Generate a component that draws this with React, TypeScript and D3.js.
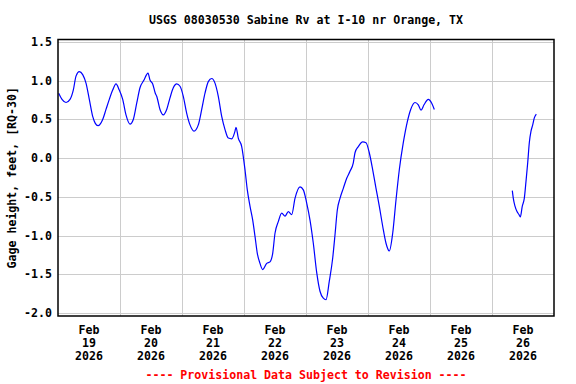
import React, { useEffect, useRef } from "react"
import * as d3 from "d3"

// hours since Feb 19 2026 00:00, gage height in feet
const hours1 = [0.27, 1.55, 3.1, 4.65, 5.92, 6.97, 8.25, 9.56, 10.84, 12.12, 13.43, 14.44, 15.48, 17.3, 18.58, 19.86, 21.17, 22.45, 23.73, 25.05, 26.32, 27.87, 29.15, 30.47, 31.74, 33.29, 34.84, 35.61, 36.66, 37.66, 38.21, 39.48, 40.76, 42.08, 43.35, 44.63, 45.95, 47.23, 48.5, 49.82, 51.1, 52.65, 54.31, 55.63, 56.9, 58.18, 59.5, 60.77, 62.05, 63.37, 64.65, 65.92, 67.24, 68.52, 68.9, 69.79, 71.11, 72.39, 73.28, 74.32, 75.37, 76.26, 77.15, 78.19, 79.24, 80.79, 82.06, 83.11, 84.0, 85.28, 86.6, 87.87, 89.15, 90.47, 91.74, 93.68, 94.96, 96.27, 97.55, 98.83, 100.15, 101.42, 102.7, 103.74, 105.02, 106.34, 107.23, 108.12, 109.16, 110.44, 111.76, 113.03, 114.31, 114.97, 116.25, 117.95, 119.23, 120.5, 121.82, 123.1, 124.37, 125.69, 126.97, 128.25, 129.56, 130.84, 132.12, 133.66, 135.21, 136.53, 138.19, 139.47, 140.52, 141.68, 143.35, 144.67, 145.67]
const gage1 = [0.84, 0.76, 0.72, 0.76, 0.88, 1.06, 1.12, 1.08, 0.97, 0.76, 0.54, 0.45, 0.42, 0.5, 0.63, 0.76, 0.88, 0.96, 0.88, 0.76, 0.56, 0.44, 0.5, 0.71, 0.91, 1.01, 1.1, 1.01, 0.96, 0.84, 0.8, 0.63, 0.56, 0.63, 0.78, 0.91, 0.96, 0.93, 0.8, 0.58, 0.43, 0.35, 0.43, 0.63, 0.84, 0.99, 1.03, 0.97, 0.8, 0.54, 0.37, 0.26, 0.25, 0.35, 0.4, 0.26, 0.15, -0.15, -0.41, -0.62, -0.8, -1.01, -1.23, -1.36, -1.44, -1.36, -1.34, -1.23, -0.97, -0.82, -0.71, -0.75, -0.69, -0.73, -0.52, -0.37, -0.41, -0.58, -0.8, -1.1, -1.48, -1.72, -1.81, -1.83, -1.59, -1.29, -0.99, -0.67, -0.52, -0.39, -0.26, -0.17, -0.06, 0.07, 0.15, 0.21, 0.2, 0.07, -0.15, -0.39, -0.62, -0.88, -1.1, -1.2, -0.97, -0.54, -0.15, 0.2, 0.47, 0.63, 0.72, 0.69, 0.62, 0.69, 0.76, 0.71, 0.63]
const hours2 = [175.86, 176.25, 176.9, 177.68, 178.45, 178.96, 179.73, 180.5, 181.16, 181.82, 182.44, 183.1, 183.76, 184.38, 185.15]
const gage2 = [-0.42, -0.52, -0.62, -0.69, -0.73, -0.76, -0.62, -0.52, -0.3, -0.06, 0.2, 0.35, 0.43, 0.52, 0.57]

const yTicks = [1.5, 1.0, 0.5, 0.0, -0.5, -1.0, -1.5, -2.0]
const dayLabels = ["19", "20", "21", "22", "23", "24", "25", "26"]
const monthLabel = "Feb"
const yearLabel = "2026"
const title = "USGS 08030530 Sabine Rv at I-10 nr Orange, TX"
const yTitle = "Gage height, feet, [RQ-30]"
const footer = "---- Provisional Data Subject to Revision ----"

const W = 576
const H = 384
const left = 58
const right = 554
const top = 39.5
const bottom = 316
const font = "'DejaVu Sans Mono', monospace"

export default function App() {
  const ref = useRef<SVGSVGElement>(null)

  useEffect(() => {
    const svg = d3.select(ref.current)
    svg.selectAll("*").remove()

    const t0 = Date.UTC(2026, 1, 19)
    const toDate = (h: number) => new Date(t0 + h * 3600 * 1000)
    const x = d3.scaleUtc().domain([new Date(t0), toDate(8 * 24)]).range([left, right])
    const y = d3.scaleLinear().domain([-2.04, 1.534]).range([bottom, top])
    const px = (v: number) => Math.round(v) + 0.5

    const days = d3.utcDay.range(new Date(t0), toDate(8 * 24))

    const grid = svg.append("g").attr("stroke", "#cccccc").attr("stroke-width", 1)
    grid.selectAll("line.h").data(yTicks).enter().append("line")
      .attr("x1", left).attr("x2", right)
      .attr("y1", d => px(y(d))).attr("y2", d => px(y(d)))
    grid.selectAll("line.v").data(days.slice(1)).enter().append("line")
      .attr("y1", top).attr("y2", bottom)
      .attr("x1", d => px(x(d))).attr("x2", d => px(x(d)))

    const line = d3.line<[number, number]>()
      .x(d => x(toDate(d[0])))
      .y(d => y(d[1]))
      .curve(d3.curveMonotoneX)

    const segs = [
      d3.zip(hours1, gage1) as [number, number][],
      d3.zip(hours2, gage2) as [number, number][],
    ]
    svg.append("g").selectAll("path").data(segs).enter().append("path")
      .attr("d", d => line(d))
      .attr("fill", "none")
      .attr("stroke", "#0000ff")
      .attr("stroke-width", 1.2)

    svg.append("rect")
      .attr("x", left).attr("y", top)
      .attr("width", right - left).attr("height", bottom - top)
      .attr("fill", "none").attr("stroke", "#000").attr("stroke-width", 1.5)

    const txt = svg.append("g")
      .attr("font-family", font).attr("font-weight", "bold").attr("font-size", 11.6)

    txt.append("text").attr("x", (left + right) / 2).attr("y", 24)
      .attr("text-anchor", "middle").text(title)

    txt.selectAll("text.yt").data(yTicks).enter().append("text")
      .attr("x", 52).attr("y", d => y(d) + 4)
      .attr("text-anchor", "end").text(d => d.toFixed(1))

    txt.append("text")
      .attr("transform", `translate(16,${(top + bottom) / 2}) rotate(-90)`)
      .attr("text-anchor", "middle").text(yTitle)

    const xl = txt.selectAll("g.xl").data(days).enter().append("g")
      .attr("transform", d => `translate(${x(d3.utcHour.offset(d, 12))},0)`)
      .attr("text-anchor", "middle")
    xl.append("text").attr("y", 334).text(monthLabel)
    xl.append("text").attr("y", 347).text((d, i) => dayLabels[i])
    xl.append("text").attr("y", 360).text(yearLabel)

    txt.append("text").attr("x", (left + right) / 2).attr("y", 379)
      .attr("text-anchor", "middle").attr("fill", "#ff0000").text(footer)
  }, [])

  return (
    <svg ref={ref} width={W} height={H}
      style={{ position: "absolute", left: 0, top: 0, background: "#fff" }} />
  )
}
